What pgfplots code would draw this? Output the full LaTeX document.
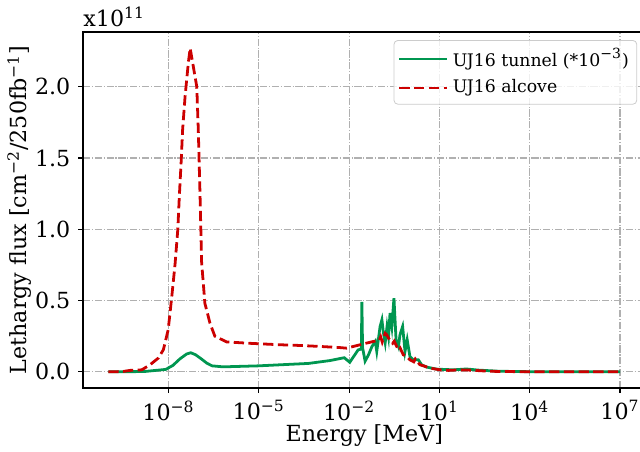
\documentclass[border=0pt]{standalone}
\usepackage{fontspec}
\setmainfont{DejaVu Serif}
\usepackage{pgfplots}
\pgfplotsset{compat=1.18}
\definecolor{tgreen}{RGB}{0,150,80}
\definecolor{ared}{RGB}{204,0,0}
\definecolor{gridgray}{RGB}{176,176,176}
\definecolor{leggray}{RGB}{204,204,204}

\begin{document}
\fontsize{11.1}{13.3}\selectfont
\begin{tikzpicture}
\begin{axis}[
    name=ax,
    scale only axis,
    width=281.3pt, height=178pt,
    xmode=log,
    xmin=1.445e-11, xmax=7.08e7,
    ymin=-0.1135, ymax=2.384,
    xtick={1e-8,1e-5,1e-2,1e1,1e4,1e7},
    xticklabels={10\textsuperscript{−8},10\textsuperscript{−5},10\textsuperscript{−2},10\textsuperscript{1},10\textsuperscript{4},10\textsuperscript{7}},
    minor xtick={},
    ytick={0,0.5,1,1.5,2},
    yticklabel style={/pgf/number format/.cd, fixed, fixed zerofill, precision=1, assume math mode=true},
    tick align=outside,
    tick pos=left,
    major tick length=2.43pt,
    every tick/.style={black, line width=0.56pt},
    axis line style={line width=0.56pt},
    grid=major,
    major grid style={gridgray, line width=0.56pt, dash pattern=on 3.56pt off 0.89pt on 0.56pt off 0.89pt},
    xlabel={Energy [MeV]},
    xlabel style={yshift=5.5pt},
    ylabel={Lethargy flux [cm\textsuperscript{−2}/250fb\textsuperscript{−1}]},
    ylabel style={yshift=-6pt},
    legend style={at={(0.985,0.9775)}, anchor=north east, draw=leggray, fill=white, fill opacity=0.8, text opacity=1,
        rounded corners=2pt, font=\fontsize{8.65}{10.4}\selectfont, row sep=1pt, inner xsep=2pt, inner ysep=2pt},
    legend cell align=left,
    legend image code/.code={\draw[#1, line width=1.39pt] (0pt,0pt) -- (18pt,0pt); \path (0pt,0pt) -- (24pt,0pt);},
]
% tunnel values already multiplied by 1e-3, units of 1e11
\addplot[tgreen, line width=1.39pt] coordinates {
(1e-10,0) (1.55e-9,0.002) (8.1e-9,0.017) (1.4e-8,0.045) (2.4e-8,0.091) (4.0e-8,0.125)
(5.5e-8,0.134) (7.9e-8,0.12) (1.23e-7,0.091) (1.9e-7,0.06) (2.8e-7,0.042) (6.5e-7,0.035)
(9.8e-6,0.042) (4.5e-4,0.059) (2.3e-3,0.079) (6.9e-3,0.099) (1.05e-2,0.067) (2.0e-2,0.154)
(2.55e-2,0.16) (2.66e-2,0.49) (2.8e-2,0.17) (3.4e-2,0.075) (4.4e-2,0.119) (5.75e-2,0.178)
(7.4e-2,0.213) (8.3e-2,0.143) (0.107,0.318) (0.123,0.365) (0.138,0.274) (0.158,0.204)
(0.182,0.318) (0.204,0.248) (0.229,0.412) (0.263,0.318) (0.309,0.517) (0.363,0.225)
(0.437,0.178) (0.49,0.26) (0.60,0.318) (0.72,0.143) (0.85,0.225) (1.05,0.107) (1.35,0.084)
(2.0,0.084) (2.57,0.049) (3.8,0.033) (8.1,0.019) (29,0.014) (79,0.02) (200,0.012)
(1000,0.004) (1e4,0.001) (1e7,0)
};
\addlegendentry{UJ16 tunnel (*10\textsuperscript{\fontsize{7}{8}\selectfont −3})}
\addplot[ared, line width=1.39pt, dash pattern=on 5.14pt off 2.22pt] coordinates {
(1e-10,0) (3e-10,0.002) (5.2e-10,0.01) (1.3e-9,0.014) (2.45e-9,0.05) (4.57e-9,0.096)
(6.76e-9,0.155) (9.77e-9,0.295) (1.29e-8,0.53) (1.66e-8,0.76) (2.04e-8,1.0) (2.29e-8,1.23)
(2.63e-8,1.47) (2.95e-8,1.70) (3.55e-8,1.93) (4.57e-8,2.17) (5.25e-8,2.27) (8.71e-8,2.0)
(9.77e-8,1.70) (1.12e-7,1.23) (1.26e-7,0.77) (1.62e-7,0.48) (2.40e-7,0.34) (3.47e-7,0.25)
(8.51e-7,0.21) (5.1e-6,0.20) (5.0e-5,0.19) (2.3e-4,0.185) (1.1e-3,0.178) (5.0e-3,0.17)
(8.3e-3,0.166) (2.3e-2,0.19) (6.3e-2,0.213) (0.1,0.22) (0.112,0.245) (0.126,0.21)
(0.138,0.236) (0.158,0.27) (0.178,0.26) (0.2,0.24) (0.229,0.22) (0.28,0.20) (0.316,0.215)
(0.38,0.178) (0.45,0.15) (0.5,0.165) (0.63,0.12) (0.79,0.11) (1.05,0.084) (1.41,0.07)
(1.58,0.09) (2.24,0.05) (3.16,0.04) (4.9,0.026) (10.5,0.014) (20,0.01) (48,0.014)
(100,0.012) (316,0.006) (1000,0.002) (1e4,0.001) (1e7,0)
};
\addlegendentry{UJ16 alcove}
\end{axis}
\node[anchor=base west, inner sep=0pt] at ([yshift=3pt]ax.north west) {x10\textsuperscript{11}};
\pgfresetboundingbox
\useasboundingbox ([xshift=-41.5pt,yshift=-31.5pt]ax.south west) rectangle ++(320pt,225.5pt);
\end{tikzpicture}
\end{document}
